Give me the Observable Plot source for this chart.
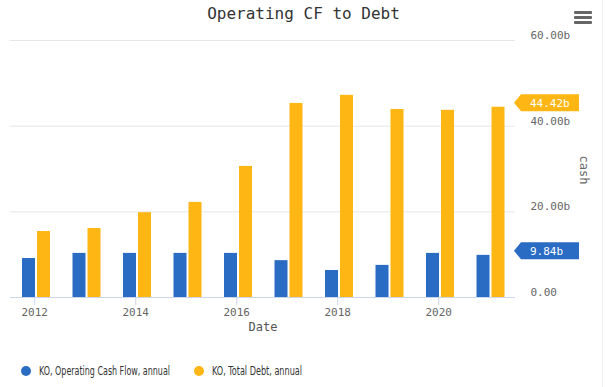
<!DOCTYPE html>
<html>
<head>
<meta charset="utf-8">
<script src="https://cdn.jsdelivr.net/npm/d3@7"></script>
<script src="https://cdn.jsdelivr.net/npm/@observablehq/plot@0.6"></script>
<style>
  html, body { margin: 0; padding: 0; background: #fff; }
  #wrap { position: relative; width: 611px; height: 387px; overflow: hidden; background: #fff; }
  #title { position: absolute; top: 5px; left: 0; width: 607px; text-align: center;
    font: 16px/18px "DejaVu Sans Mono", monospace; color: #333; }
  #chart { position: absolute; top: 0; left: 0; }
  #ylabel { position: absolute; left: 584px; top: 170px; transform: translate(-50%, -50%) rotate(90deg);
    font: 12px "DejaVu Sans Mono", monospace; color: #666; white-space: nowrap; }
  #menu { position: absolute; left: 574px; top: 11px; width: 18px; }
  #menu div { height: 3px; background: #666; border-radius: 1px; margin-bottom: 2px; }
  #edge { position: absolute; left: 602px; top: 0; width: 1px; height: 387px; background: #f0f0f0; }
  #legend { position: absolute; top: 363px; left: 0; font: 12px "DejaVu Sans Condensed", "Roboto", sans-serif; color: #333; }
  .item { position: absolute; top: 0; white-space: nowrap; line-height: 16px; }
  .dot { position: absolute; top: 3px; left: 0; width: 10px; height: 10px; border-radius: 50%; }
  .lbl { position: absolute; top: 0; left: 18px; transform-origin: 0 50%; white-space: nowrap; }
</style>
</head>
<body>
<div id="wrap">
  <div id="chart"></div>
  <div id="title">Operating CF to Debt</div>
  <div id="ylabel">cash</div>
  <div id="menu"><div></div><div></div><div></div></div>
  <div id="edge"></div>
  <div id="legend"></div>
</div>
<script>
// ---- data (billions) ----
const years = [2012, 2013, 2014, 2015, 2016, 2017, 2018, 2019, 2020, 2021];
const operatingCashFlow = [9.1, 10.3, 10.3, 10.3, 10.3, 8.6, 6.3, 7.5, 10.3, 9.84];
const totalDebt = [15.4, 16.1, 19.8, 22.2, 30.6, 45.3, 47.2, 43.9, 43.7, 44.42];
const seriesNames = ["KO, Operating Cash Flow, annual", "KO, Total Debt, annual"];
const seriesColors = ["#2a6cc3", "#fdb614"];
const xTicks = [2012, 2014, 2016, 2018, 2020];
const yTicks = [0, 20, 40, 60];

const fmtY = d => d === 0 ? "0.00" : d.toFixed(2) + "b";

const rows = [];
years.forEach((yr, i) => {
  rows.push({year: yr, series: 0, value: operatingCashFlow[i]});
  rows.push({year: yr, series: 1, value: totalDebt[i]});
});

// bar geometry in year units: group centre slightly after Jan 1, two bars with a gap
const centreOffset = 0.035, gap = 0.0198, barW = 0.2574;
const x1 = d => d.series === 0 ? d.year + centreOffset - gap - barW : d.year + centreOffset + gap;
const x2 = d => d.series === 0 ? d.year + centreOffset - gap : d.year + centreOffset + gap + barW;

const flagData = [
  {value: operatingCashFlow[operatingCashFlow.length - 1], color: seriesColors[0]},
  {value: totalDebt[totalDebt.length - 1], color: seriesColors[1]}
];

function flags(index, scales, values, dimensions) {
  const g = d3.create("svg:g");
  const xr = dimensions.width - dimensions.marginRight;
  for (const f of flagData) {
    const yc = scales.y(f.value) - 4;
    const h = 8.5;
    g.append("polygon")
      .attr("points", [[xr - 1, yc], [xr + 6, yc - h], [xr + 64, yc - h], [xr + 64, yc + h], [xr + 6, yc + h]].map(p => p.join(",")).join(" "))
      .attr("fill", f.color);
    g.append("text")
      .attr("x", xr + 15).attr("y", yc)
      .attr("dy", "0.35em")
      .attr("text-anchor", "start")
      .attr("fill", "#fff")
      .attr("font-size", 11)
      .attr("font-family", "DejaVu Sans Mono, monospace")
      .text(f.value.toFixed(2) + "b");
  }
  return g.node();
}

const chart = Plot.plot({
  width: 611,
  height: 345,
  marginTop: 40,
  marginBottom: 48,
  marginLeft: 10,
  marginRight: 96,
  style: {fontFamily: "DejaVu Sans Mono, monospace", background: "transparent", overflow: "visible"},
  x: {domain: [2011.52, 2021.52]},
  y: {domain: [0, 60]},
  marks: [
    Plot.gridY(yTicks.filter(d => d > 0), {stroke: "#e6e6e6", strokeOpacity: 1}),
    Plot.rect(rows, {x1, x2, y1: 0, y2: "value", fill: d => seriesColors[d.series]}),
    Plot.ruleY([0], {stroke: "#ccd6eb"}),
    Plot.axisX({ticks: xTicks, tickFormat: d => String(d), tickSize: 8, tickPadding: 3,
      stroke: "#ccd6eb", strokeOpacity: 1, fill: "#666", fontSize: 11, label: null}),
    Plot.text(["Date"], {frameAnchor: "bottom", dy: 33, fontSize: 12, fill: "#555"}),
    Plot.axisY({anchor: "right", ticks: yTicks, tickFormat: fmtY, tickSize: 0, tickPadding: 15,
      fill: "#666", fontSize: 11, dy: -5, label: null}),
    flags
  ]
});
document.getElementById("chart").appendChild(chart);

// legend
const legend = document.getElementById("legend");
const legendX = [21, 194];
const legendTextWidth = [131, 90];
seriesNames.forEach((name, i) => {
  const item = document.createElement("div");
  item.className = "item";
  item.style.left = legendX[i] + "px";
  const dot = document.createElement("span");
  dot.className = "dot";
  dot.style.background = seriesColors[i];
  const lbl = document.createElement("span");
  lbl.className = "lbl";
  lbl.textContent = name;
  item.appendChild(dot);
  item.appendChild(lbl);
  legend.appendChild(item);
  const w = lbl.getBoundingClientRect().width;
  if (w > 0) lbl.style.transform = `scaleX(${legendTextWidth[i] / w})`;
});
</script>
</body>
</html>
